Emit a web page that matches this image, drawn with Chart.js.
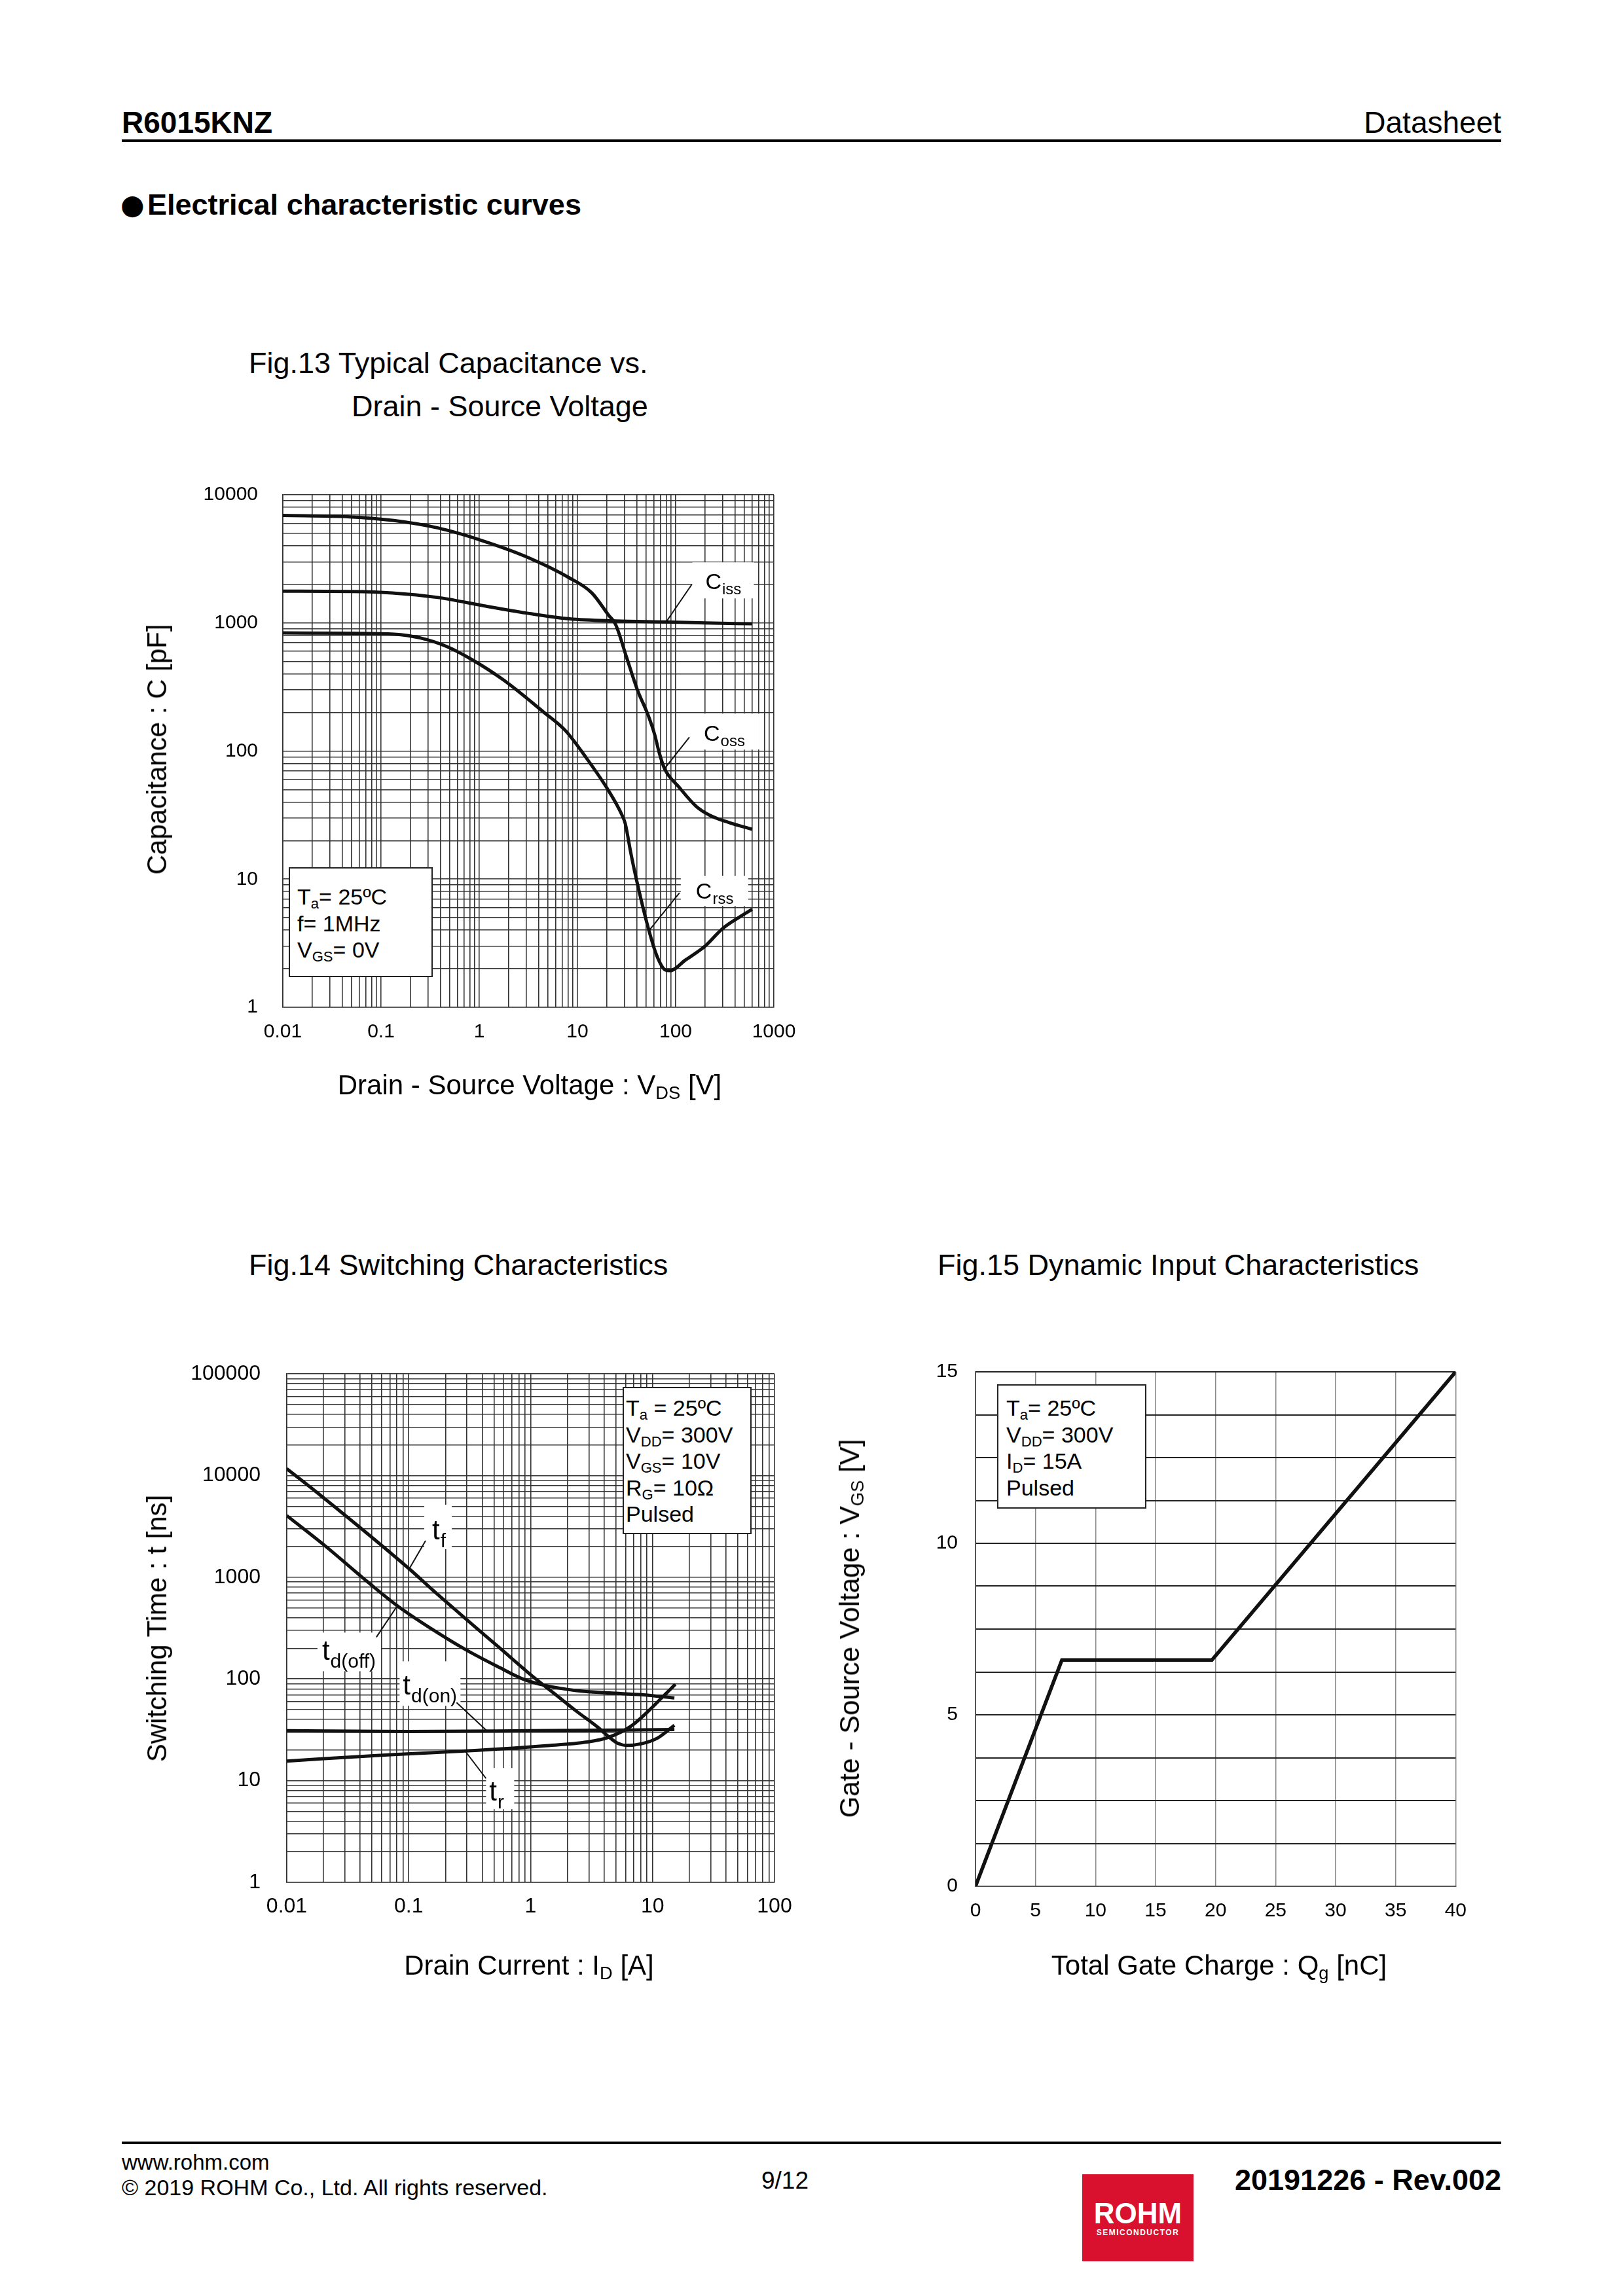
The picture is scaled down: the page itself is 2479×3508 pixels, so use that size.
<!DOCTYPE html>
<html>
<head>
<meta charset="utf-8">
<title>R6015KNZ - Electrical characteristic curves</title>
<script src="https://cdn.jsdelivr.net/npm/chart.js@4.4.0/dist/chart.umd.min.js"></script>
<style>
  html, body { margin: 0; padding: 0; background: #fff; }
  #page { position: relative; width: 2479px; height: 3508px; overflow: hidden;
          font-family: 'Liberation Sans', Arial, sans-serif; color: #000; }
  .t { position: absolute; white-space: nowrap; }
  .c { transform: translate(-50%, -50%); line-height: 1; }
  .r { transform: translate(-50%, -50%) rotate(-90deg); line-height: 1; }
  .rule { position: absolute; left: 186px; width: 2107px; height: 4px; background: #000; }
  canvas { position: absolute; }
  sub { font-size: 0.65em; vertical-align: -0.25em; line-height: 0; }
  .cond { position: absolute; background: #fff; border: 2px solid #222; box-sizing: border-box;
          font-size: 34px; line-height: 40.5px; white-space: nowrap; }
  .logo { position: absolute; left: 1653px; top: 3322px; width: 170px; height: 133px; background: #d9102e; color: #fff; }
</style>
</head>
<body>
<div id="page">
  <canvas id="c13" width="1050" height="1000" style="left:200px; top:700px; width:1050px; height:1000px;"></canvas>
  <canvas id="c14" width="1050" height="1000" style="left:200px; top:2040px; width:1050px; height:1000px;"></canvas>
  <canvas id="c15" width="1000" height="1000" style="left:1260px; top:2040px; width:1000px; height:1000px;"></canvas>

  <!-- header -->
  <div class="t" style="left:186px; top:164px; font-size:46px; line-height:46px; font-weight:bold;">R6015KNZ</div>
  <div class="t" style="right:186px; top:164px; font-size:46px; line-height:46px;">Datasheet</div>
  <div class="rule" style="top:213px;"></div>
  <div class="t" style="left:184px; top:290px; font-size:42px; line-height:46px; font-family:'DejaVu Sans';">●</div>
  <div class="t" style="left:225px; top:290px; font-size:45px; line-height:45px; font-weight:bold;">Electrical characteristic curves</div>

  <!-- Fig.13 -->
  <div class="t" style="left:380px; top:532px; font-size:45px; line-height:45px;">Fig.13 Typical Capacitance vs.</div>
  <div class="t" style="left:537px; top:598px; font-size:45px; line-height:45px;">Drain - Source Voltage</div>
  <div class="t r" style="left:240px; top:1145px; font-size:42px;">Capacitance : C [pF]</div>
  <div class="t c" style="left:809px; top:1658px; font-size:42px;">Drain - Source Voltage : V<sub>DS</sub> [V]</div>
  <div class="cond" style="left:441px; top:1325px; width:220px; height:168px; padding:23px 0 0 11px;">
    <div>T<sub>a</sub>= 25ºC</div><div>f= 1MHz</div><div>V<sub>GS</sub>= 0V</div>
  </div>

  <!-- Fig.14 -->
  <div class="t" style="left:380px; top:1910px; font-size:45px; line-height:45px;">Fig.14 Switching Characteristics</div>
  <div class="t r" style="left:240px; top:2488px; font-size:42px;">Switching Time : t [ns]</div>
  <div class="t c" style="left:808px; top:3003px; font-size:42px;">Drain Current : I<sub>D</sub> [A]</div>
  <div class="cond" style="left:951px; top:2119px; width:197px; height:225px; padding:10px 0 0 3px;">
    <div>T<sub>a</sub> = 25ºC</div><div>V<sub>DD</sub>= 300V</div><div>V<sub>GS</sub>= 10V</div><div>R<sub>G</sub>= 10Ω</div><div>Pulsed</div>
  </div>

  <!-- Fig.15 -->
  <div class="t" style="left:1432px; top:1910px; font-size:45px; line-height:45px;">Fig.15 Dynamic Input Characteristics</div>
  <div class="t r" style="left:1298px; top:2488px; font-size:42px;">Gate - Source Voltage : V<sub>GS</sub> [V]</div>
  <div class="t c" style="left:1862px; top:3003px; font-size:42px;">Total Gate Charge : Q<sub>g</sub> [nC]</div>
  <div class="cond" style="left:1523px; top:2115px; width:228px; height:190px; padding:14px 0 0 12px;">
    <div>T<sub>a</sub>= 25ºC</div><div>V<sub>DD</sub>= 300V</div><div>I<sub>D</sub>= 15A</div><div>Pulsed</div>
  </div>

  <!-- footer -->
  <div class="rule" style="top:3272px;"></div>
  <div class="t" style="left:186px; top:3287px; font-size:33px; line-height:33px;">www.rohm.com</div>
  <div class="t" style="left:186px; top:3325px; font-size:34px; line-height:34px;">© 2019 ROHM Co., Ltd. All rights reserved.</div>
  <div class="t c" style="left:1199px; top:3331px; font-size:37px;">9/12</div>
  <div class="logo">
    <div class="t c" style="left:85px; top:60px; font-size:44px; font-weight:bold;">ROHM</div>
    <div class="t c" style="left:85px; top:89px; font-size:12px; font-weight:bold; letter-spacing:1.5px;">SEMICONDUCTOR</div>
  </div>
  <div class="t" style="right:186px; top:3308px; font-size:45px; line-height:45px; font-weight:bold;">20191226 - Rev.002</div>
</div>

<script>
// Fig.13 : VDS [V] -> capacitance [pF]
const capXTicks = [0.01, 0.1, 1, 10, 100, 1000];
const capYTicks = [1, 10, 100, 1000, 10000];
const cissVds = [0.01, 0.05, 0.13, 0.38, 1.06, 3, 8.3, 24.4, 80, 200, 600];
const cissPf  = [1770, 1760, 1715, 1580, 1370, 1195, 1075, 1036, 1018, 1000, 984];
const cossVds = [0.01, 0.048, 0.135, 0.38, 1.06, 3, 8.3, 14, 20.9, 24.4, 31.5, 40.6, 52.5, 61.2, 67.8, 77, 107.5, 162, 220, 348, 600];
const cossPf  = [6900, 6730, 6300, 5510, 4400, 3290, 2245, 1715, 1141, 977, 545, 303, 190, 134, 98, 73, 52.6, 37, 31.7, 27.7, 24.5];
const crssVds = [0.01, 0.05, 0.136, 0.25, 0.47, 0.87, 1.78, 4.5, 7.5, 12.5, 20.9, 28.4, 30.7, 34.8, 38.6, 52.5, 64.4, 79, 87.5, 125, 199, 299, 450, 600];
const crssPf  = [836, 830, 817, 764, 653, 510, 357, 202, 145, 87, 48.6, 31.7, 27.1, 16.3, 11.1, 4.18, 2.52, 1.95, 1.93, 2.33, 3.0, 4.1, 5.08, 5.82];

// Fig.14 : ID [A] -> switching time [ns]
const swXTicks = [0.01, 0.1, 1, 10, 100];
const swYTicks = [1, 10, 100, 1000, 10000, 100000];
const tfId    = [0.01, 0.0183, 0.101, 0.163, 0.301, 0.56, 1.04, 1.57, 2.37, 3.57, 4.4, 5.18, 6.1, 8.14, 10.9, 15.1];
const tfNs    = [11700, 6610, 1211, 722, 381, 201, 106, 71.6, 48.3, 33.4, 26.8, 23.3, 22.2, 23.1, 26.1, 35];
const tdoffId = [0.01, 0.0207, 0.0472, 0.0807, 0.163, 0.301, 0.56, 0.845, 1.28, 2.37, 4.4, 8.14, 15.1];
const tdoffNs = [4045, 2032, 880, 525, 298, 191, 129, 101, 87, 77, 73, 70, 65];
const tdonId  = [0.01, 0.1, 1, 15.1];
const tdonNs  = [31, 30.5, 31, 31.8];
const trId    = [0.01, 0.071, 0.37, 1.28, 2.91, 4.4, 6.62, 9.23, 12.3, 15.4];
const trNs    = [15.6, 18, 19.9, 22, 24, 26.8, 34.2, 48.3, 68, 89];

// Fig.15 : Qg [nC] -> VGS [V]
const gateXTicks = [0, 5, 10, 15, 20, 25, 30, 35, 40];
const gateYTicks = [0, 5, 10, 15];
const gateQg  = [0, 7.2, 19.7, 40];
const gateVgs = [0, 6.6, 6.6, 15];

const FONT = "'Liberation Sans', Arial, sans-serif";

function pts(xs, ys) {
  return xs.map(function(x, i) { return {x: x, y: ys[i]}; });
}

function curve(xs, ys, smooth) {
  return {
    data: pts(xs, ys), showLine: true, borderColor: '#111', borderWidth: smooth ? 5 : 5.5,
    pointRadius: 0, fill: false,
    cubicInterpolationMode: smooth ? 'monotone' : 'default', tension: 0
  };
}

// all 1..9 lines of each decade
function logGrid(majors) {
  var out = [];
  for (var i = 0; i < majors.length - 1; i++) {
    for (var k = 1; k < 10; k++) out.push(+(majors[i] * k).toPrecision(6));
  }
  out.push(majors[majors.length - 1]);
  return out;
}

function logAxis(majors, size, pad, fontSize) {
  return {
    type: 'logarithmic', min: majors[0], max: majors[majors.length - 1],
    afterBuildTicks: function(s) { s.ticks = logGrid(majors).map(function(v) { return {value: v}; }); },
    afterFit: function(s) { if (s.isHorizontal()) s.height = size; else s.width = size; },
    ticks: {
      autoSkip: false, maxRotation: 0, padding: pad, color: '#000',
      font: {family: FONT, size: fontSize},
      callback: function(v) { return majors.indexOf(v) >= 0 ? String(v) : ''; }
    },
    grid: {color: '#333', lineWidth: 1.6, drawTicks: false},
    border: {color: '#333', width: 1.6}
  };
}

// curve name labels with a white patch and a leader line to the curve
var callouts = {
  id: 'callouts',
  beforeDatasetsDraw: function(chart, args, opts) {
    var ctx = chart.ctx;
    (opts.items || []).forEach(function(it) {
      var px = chart.scales.x.getPixelForValue(it.x), py = chart.scales.y.getPixelForValue(it.y);
      ctx.save();
      ctx.fillStyle = '#fff';
      ctx.fillRect(px + it.box[0], py + it.box[1], it.box[2] - it.box[0], it.box[3] - it.box[1]);
      ctx.restore();
    });
  },
  afterDatasetsDraw: function(chart, args, opts) {
    var ctx = chart.ctx;
    (opts.items || []).forEach(function(it) {
      var px = chart.scales.x.getPixelForValue(it.x), py = chart.scales.y.getPixelForValue(it.y);
      ctx.save();
      ctx.strokeStyle = '#111';
      ctx.lineWidth = 2;
      ctx.beginPath();
      ctx.moveTo(px + it.lx, py + it.ly);
      ctx.lineTo(px, py);
      ctx.stroke();
      ctx.fillStyle = '#000';
      ctx.textAlign = 'left';
      ctx.textBaseline = 'alphabetic';
      ctx.font = opts.size + 'px ' + FONT;
      ctx.fillText(it.t, px + it.tx, py + it.ty);
      var w = ctx.measureText(it.t).width;
      ctx.font = opts.subSize + 'px ' + FONT;
      ctx.fillText(it.s, px + it.tx + w + 1, py + it.ty + opts.subDy);
      ctx.restore();
    });
  }
};

function baseOptions(padding, scales, calloutOpts) {
  return {
    responsive: false, animation: false, events: [],
    layout: {padding: padding},
    plugins: {legend: {display: false}, tooltip: {enabled: false}, callouts: calloutOpts},
    scales: scales
  };
}

// Fig.13
new Chart(document.getElementById('c13'), {
  type: 'scatter',
  data: {datasets: [
    curve(cissVds, cissPf, true),
    curve(cossVds, cossPf, true),
    curve(crssVds, crssPf, true)
  ]},
  options: baseOptions({top: 51, right: 68, bottom: 0, left: 0}, {
    x: logAxis(capXTicks, 161, 20, 30),
    y: logAxis(capYTicks, 232, 38, 30)
  }, {
    size: 34, subSize: 24, subDy: 8,
    items: [
      {x: 80, y: 1018, t: 'C', s: 'iss', box: [40, -91, 134, -36], tx: 60, ty: -50, lx: 39, ly: -57},
      {x: 77, y: 73, t: 'C', s: 'oss', box: [33, -84, 145, -29], tx: 60, ty: -42, lx: 38, ly: -48},
      {x: 54, y: 4.0, t: 'C', s: 'rss', box: [48, -83, 151, -37], tx: 71, ty: -48, lx: 46, ly: -57}
    ]
  }),
  plugins: [callouts]
});

// Fig.14
new Chart(document.getElementById('c14'), {
  type: 'scatter',
  data: {datasets: [
    curve(tfId, tfNs, true),
    curve(tdoffId, tdoffNs, true),
    curve(tdonId, tdonNs, true),
    curve(trId, trNs, true)
  ]},
  options: baseOptions({top: 56, right: 67, bottom: 0, left: 0}, {
    x: logAxis(swXTicks, 164, 18, 32),
    y: logAxis(swYTicks, 238, 40, 32)
  }, {
    size: 42, subSize: 30, subDy: 12,
    items: [
      {x: 0.101, y: 1211, t: 't', s: 'f', box: [23, -98, 65, -30], tx: 35, ty: -45, lx: 25, ly: -43},
      {x: 0.0807, y: 525, t: 't', s: 'd(off)', box: [-122, 41, -25, 100], tx: -115, ty: 83, lx: -32, ly: 48},
      {x: 0.436, y: 31, t: 't', s: 'd(on)', box: [-133, -106, -40, -38], tx: -128, ty: -55, lx: -46, ly: -43},
      {x: 0.29, y: 19.6, t: 't', s: 'r', box: [32, 26, 75, 89], tx: 37, ty: 76, lx: 32, ly: 42}
    ]
  }),
  plugins: [callouts]
});

// Fig.15
new Chart(document.getElementById('c15'), {
  type: 'scatter',
  data: {datasets: [curve(gateQg, gateVgs, false)]},
  options: baseOptions({top: 56, right: 36, bottom: 0, left: 0}, {
    x: {
      type: 'linear', min: 0, max: 40,
      afterBuildTicks: function(s) { s.ticks = gateXTicks.map(function(v) { return {value: v}; }); },
      afterFit: function(s) { s.height = 158; },
      ticks: {autoSkip: false, maxRotation: 0, padding: 20, color: '#000', font: {family: FONT, size: 30},
              callback: function(v) { return String(v); }},
      grid: {color: '#8a8a8a', lineWidth: 1.5, drawTicks: false},
      border: {color: '#555', width: 2}
    },
    y: {
      type: 'linear', min: 0, max: 15,
      afterBuildTicks: function(s) {
        var t = [];
        for (var v = 0; v <= 15; v += 1.25) t.push({value: v});
        s.ticks = t;
      },
      afterFit: function(s) { s.width = 230; },
      ticks: {autoSkip: false, padding: 27, color: '#000', font: {family: FONT, size: 30},
              callback: function(v) { return gateYTicks.indexOf(v) >= 0 ? String(v) : ''; }},
      grid: {color: '#222', lineWidth: 2, drawTicks: false},
      border: {color: '#555', width: 2}
    }
  }, {items: []}),
  plugins: [callouts]
});
</script>
</body>
</html>
